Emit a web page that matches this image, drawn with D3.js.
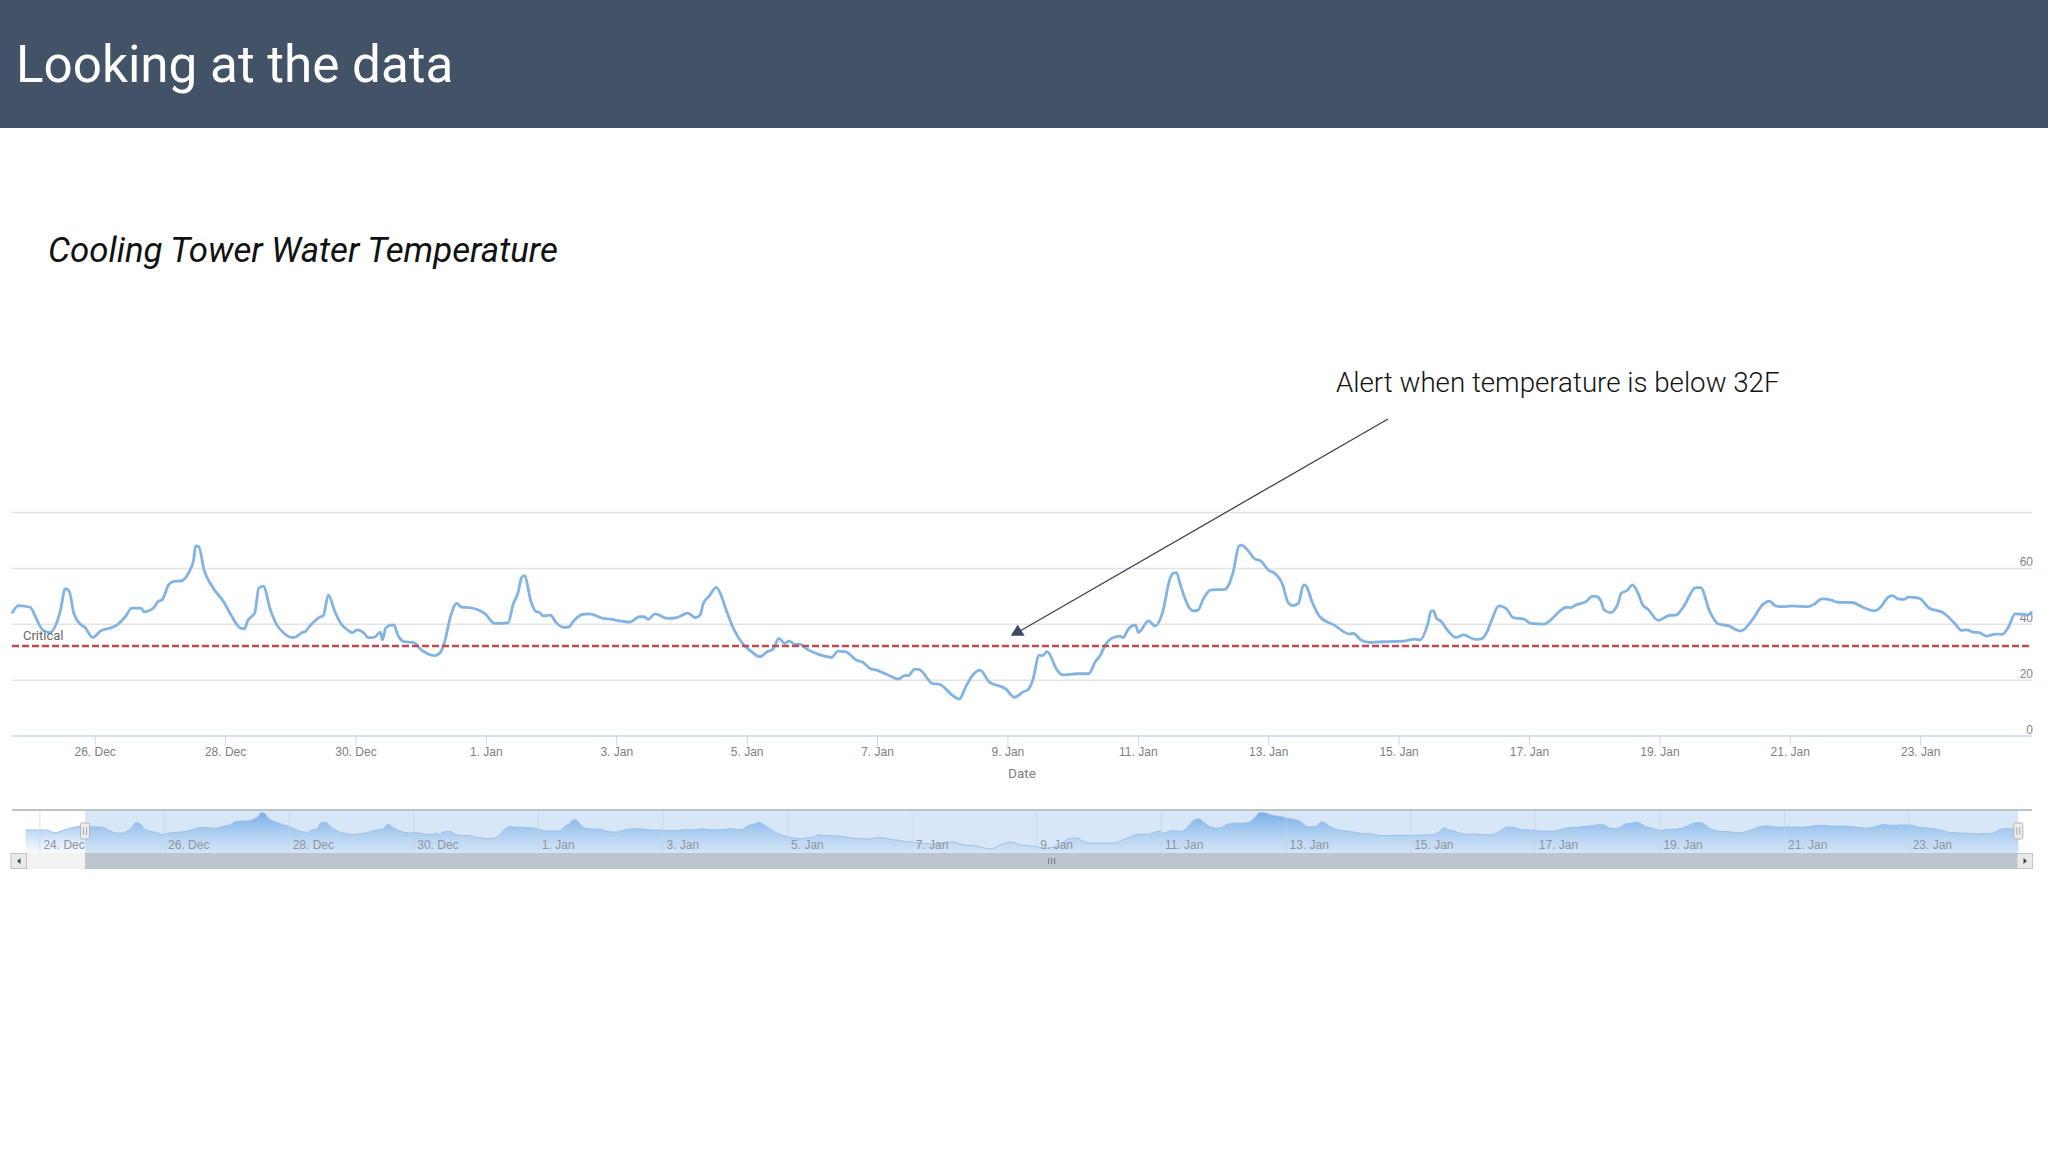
<!DOCTYPE html>
<html>
<head>
<meta charset="utf-8">
<title>Looking at the data</title>
<script src="https://cdn.jsdelivr.net/npm/d3@7"></script>
<style>
  html, body { margin: 0; padding: 0; background: #fff; }
  svg { display: block; font-family: Roboto, sans-serif; }
  .domain { display: none; }
</style>
</head>
<body>
<script>
// days counted from 26 Dec, temperature in F
const tempDays = [
  -1.27,-1.17,-0.99,-0.91,-0.80,-0.69,-0.53,-0.45,-0.39,-0.32,
  -0.22,-0.15,-0.03,0.09,0.19,0.26,0.36,0.47,0.57,0.71,
  0.76,0.91,0.97,1.04,1.14,1.22,1.32,1.46,1.52,1.55,
  1.60,1.68,1.80,1.98,2.11,2.23,2.30,2.35,2.46,2.52,
  2.59,2.70,2.80,2.90,3.00,3.07,3.18,3.24,3.31,3.47,
  3.51,3.59,3.69,3.79,3.90,3.96,4.03,4.14,4.20,4.29,
  4.39,4.42,4.47,4.55,4.60,4.65,4.75,4.91,4.99,5.23,
  5.30,5.37,5.47,5.56,5.64,5.75,5.99,6.15,6.35,6.43,
  6.50,6.56,6.60,6.71,6.78,6.83,6.89,7.00,7.09,7.20,
  7.27,7.36,7.50,7.60,7.81,7.94,8.08,8.22,8.37,8.44,
  8.50,8.61,8.80,8.94,9.11,9.23,9.30,9.35,9.44,9.55,
  9.62,9.71,9.81,9.95,10.09,10.22,10.33,10.42,10.51,10.60,
  10.67,10.76,10.84,10.94,11.08,11.32,11.42,11.53,11.70,11.80,
  11.91,12.01,12.21,12.35,12.44,12.50,12.59,12.66,12.87,12.98,
  13.17,13.28,13.38,13.50,13.60,13.74,14.00,14.13,14.27,14.34,
  14.41,14.51,14.56,14.63,14.79,14.87,15.09,15.27,15.37,15.44,
  15.54,15.64,15.75,15.80,15.87,15.95,15.99,16.03,16.19,16.29,
  16.40,16.52,16.57,16.62,16.67,16.82,16.88,16.95,17.03,17.15,
  17.36,17.41,17.49,17.58,17.62,17.71,17.82,17.91,18.04,18.11,
  18.25,18.33,18.40,18.49,18.57,18.61,18.70,18.82,19.04,19.28,
  19.33,19.45,19.59,19.74,19.87,20.14,20.28,20.36,20.48,20.53,
  20.57,20.61,20.67,20.79,20.91,21.03,21.20,21.29,21.39,21.46,
  21.57,21.68,21.79,21.96,22.06,22.27,22.41,22.49,22.61,22.68,
  22.75,22.92,23.00,23.06,23.13,23.19,23.28,23.39,23.45,23.54,
  23.62,23.71,23.78,23.86,24.02,24.19,24.29,24.39,24.60,24.67,
  24.81,24.94,25.11,25.22,25.29,25.46,25.63,25.73,25.82,25.94,
  26.07,26.31,26.42,26.53,26.69,26.77,27.00,27.17,27.34,27.45,
  27.55,27.62,27.69,27.79,27.86,28.03,28.17,28.41,28.48,28.58,
  28.68,28.76,28.85,28.95,29.06,29.20,29.30,29.40,29.50,29.61,
  29.69,29.76
];
const tempValues = [
  43.7,46.5,45.9,42.5,37.8,36.8,44.3,52.6,51.5,43.7,
  39.8,38.7,35.1,37.4,38.2,38.6,39.9,42.5,45.6,45.6,
  44.3,45.8,47.9,48.7,54.1,55.2,55.3,59,62.8,67.9,
  67.6,59.3,53.5,47.9,42.5,38.6,38.2,41.1,44,52.7,
  53.5,44.9,39.5,36.8,35.2,35.1,36.8,37.3,39.3,42.5,
  42.8,50.3,44.3,39.8,37.5,36.8,37.8,36.6,35,35.1,
  37,34.2,38.4,39.5,39.5,36.3,33.6,33.2,31.2,28.6,
  29.4,33,42.9,47.3,45.9,45.8,43.7,40.1,40.3,47.1,
  50.9,56.6,57.2,47.3,44.3,44.1,42.8,43.1,40.4,38.7,
  38.7,41.1,43.4,43.5,41.9,41.6,40.9,40.6,42.5,42.5,
  41.6,43.5,41.9,42.2,43.8,42.2,43.1,47.3,49.9,53,
  50.3,44.3,38.4,33,30,28.2,30,30.9,34.8,33,
  33.8,32.6,32.6,30.9,29.4,28,30.2,30,27,26.2,
  24,23.4,21.4,20.2,21.4,21.4,23.7,23.7,18.6,18.3,
  14.5,13,17.4,21.9,23.4,19.2,16.6,13.7,15.7,16.5,
  19.8,28.8,28.6,30,23.2,21.7,22.1,22.1,26.4,28.4,
  33,35,35.6,35,37.8,39.4,39.5,36.9,41,39.2,
  43.7,56.3,58.1,58.3,54.5,45.5,44.6,44.9,48.9,52.1,
  52.3,53.5,58.7,67.9,68.1,66.4,63.2,62.5,59,58.3,
  53.9,47.7,46.5,47.3,53.9,53.5,47.9,42.5,39.5,36.3,
  36.6,34.2,33.3,33.5,33.6,33.9,34.5,34.2,40.1,44.6,
  44.6,41.9,41.1,37.4,35.1,36,34.4,34.5,37.2,41.3,
  46.4,45.5,42.2,41.6,40.1,39.9,42.3,44.2,45.9,45.8,
  46.7,48.1,49.8,49.8,48.5,44.9,44,46.7,50.9,51.9,
  53.9,50.9,46.7,45.2,41.2,43,43.1,45.5,52.9,52.9,
  44.3,39.9,39.2,37.8,37.4,41.3,47,48.1,46.4,46.1,
  46.4,46.1,47.1,48.9,48.4,47.7,47.6,45.8,44.6,46.4,
  49.5,50.1,49,48.7,49.5,49.1,45.8,43.7,42.3,39.9,
  37.6,37.8,37,36.8,35.6,36.3,36.2,38.9,43.5,43.4,
  43.1,44.3
];
// the navigator starts a bit earlier than the main view
const preDays = [-2.22,-1.90,-1.75,-1.57,-1.36];
const preValues = [41.8,41.8,37.7,42.9,46.8];

const yTicks = [0,20,40,60,80];
const criticalValue = 32;
const mainTickDays = d3.range(0,29,2);
const navTickDays = d3.range(-2,29,2);

const dayMs = 86400000;
const toDate = d => new Date(2016,11,26).getTime() + d*dayMs;
const fmtTick = d3.timeFormat("%-d. %b");
// my readings ran a hair long against the date ticks
const readFix = 0.9985;
const trueDays = tempDays.map(d => d*readFix);

const svg = d3.select("body").append("svg").attr("width",2048).attr("height",1152);
svg.append("rect").attr("width",2048).attr("height",1152).attr("fill","#fff");

// header
svg.append("rect").attr("width",2048).attr("height",128).attr("fill","#435367");
svg.append("text").attr("x",16).attr("y",82).attr("fill","#fff")
  .style("font-size","51.2px").text("Looking at the data");
svg.append("text").attr("x",48).attr("y",262).attr("fill","#111")
  .style("font-size","34.8px").style("font-style","italic").text("Cooling Tower Water Temperature");

// main chart
const left = 12, right = 2032;
const x = d3.scaleTime().domain([toDate(-1.268),toDate(29.715)]).range([left,right]);
const y = d3.scaleLinear().domain([0,80]).range([735.5,512]);

const yAxis = d3.axisRight(y).tickValues(yTicks).tickSize(left-right).tickPadding(0);
const yG = svg.append("g").attr("transform",`translate(${right},0)`).call(yAxis);
yG.selectAll(".tick line").attr("stroke","#e4e4e4").attr("stroke-width",1.5);
yG.selectAll(".tick").filter(d => d==0).select("line").attr("stroke","#ccd6eb");
yG.selectAll(".tick text").attr("x",1).attr("dy",-2).attr("text-anchor","end")
  .attr("fill","#858585").style("font-size","12px").text(d => d==80 ? "" : d);

const xAxis = d3.axisBottom(x).tickValues(mainTickDays.map(d => new Date(toDate(d))))
  .tickFormat(fmtTick).tickSize(10).tickPadding(2);
const xG = svg.append("g").attr("transform","translate(0,735.5)").call(xAxis);
xG.selectAll(".tick line").attr("stroke","#ccd6eb");
xG.selectAll(".tick text").attr("fill","#808080").style("font-size","12px").attr("dx",0);

svg.append("text").attr("x",1022).attr("y",778).attr("text-anchor","middle").attr("fill","#808080")
  .style("font-size","13.5px").text("Date");

const series = d3.zip(trueDays,tempValues);
const line = d3.line().x(d => x(toDate(d[0]))).y(d => y(d[1])).curve(d3.curveMonotoneX);
svg.append("path").attr("d",line(series)).attr("fill","none")
  .attr("stroke","#82b3e3").attr("stroke-width",2.8).attr("stroke-linejoin","round");

svg.append("line").attr("x1",left).attr("x2",right).attr("y1",y(criticalValue)).attr("y2",y(criticalValue))
  .attr("stroke","#c04850").attr("stroke-width",2.5).attr("stroke-dasharray","7,3");
svg.append("text").attr("x",23).attr("y",y(criticalValue)-6).attr("fill","#666")
  .style("font-size","13px").text("Critical");

// annotation
svg.append("text").attr("x",1336).attr("y",392).attr("fill","#111")
  .style("font-size","27.7px").style("font-weight",300).text("Alert when temperature is below 32F");
svg.append("line").attr("x1",1388).attr("y1",419).attr("x2",1020).attr("y2",631)
  .attr("stroke","#3a4252").attr("stroke-width",1.3);
svg.append("path").attr("d",d3.line()([[1017.7,624.7],[1024.7,635.7],[1010.7,635.7]])+"Z").attr("fill","#3f4860");

// navigator
const navTop = 810, navBottom = 853, barBottom = 869;
const xNav = d3.scaleTime().domain([toDate(-2.44),toDate(29.98)]).range([left,right]);
const yNav = d3.scaleLinear().domain([7,72]).range([navBottom,navTop]);
const selA = xNav(x.domain()[0]), selB = xNav(toDate(29.76));

const grad = svg.append("defs").append("linearGradient").attr("id","navFill")
  .attr("x1",0).attr("x2",0).attr("y1",0).attr("y2",1);
grad.append("stop").attr("offset","0%").attr("stop-color","#5b9be4").attr("stop-opacity",0.75);
grad.append("stop").attr("offset","100%").attr("stop-color","#7cb5ec").attr("stop-opacity",0.05);

svg.append("rect").attr("x",selA).attr("y",navTop).attr("width",selB-selA).attr("height",navBottom-navTop)
  .attr("fill","#d7e7f7");

const navSeries = d3.zip(preDays.concat(tempDays),preValues.concat(tempValues));
const navArea = d3.area().x(d => xNav(toDate(d[0]))).y0(navBottom).y1(d => yNav(d[1])).curve(d3.curveMonotoneX);
const navLine = navArea.lineY1();
svg.append("path").attr("d",navArea(navSeries)).attr("fill","url(#navFill)");
svg.append("path").attr("d",navLine(navSeries)).attr("fill","none").attr("stroke","#9cc0e8").attr("stroke-width",1);

const navAxis = d3.axisBottom(xNav).tickValues(navTickDays.map(d => new Date(toDate(d))))
  .tickFormat(fmtTick).tickSize(navBottom-navTop).tickPadding(0);
const navG = svg.append("g").attr("transform",`translate(0,${navTop})`).call(navAxis);
navG.selectAll(".tick line").attr("stroke","#c8d4e0").attr("stroke-opacity",0.7);
navG.selectAll(".tick text").attr("fill","#8f949b").style("font-size","12px")
  .attr("text-anchor","start").attr("x",3.5).attr("y",0).attr("dy",0)
  .attr("transform","translate(0,39)");

svg.append("line").attr("x1",left).attr("x2",right).attr("y1",navTop).attr("y2",navTop)
  .attr("stroke","#bcc4c8").attr("stroke-width",2);

// scrollbar
svg.append("rect").attr("x",left).attr("y",navBottom).attr("width",right-left).attr("height",barBottom-navBottom).attr("fill","#f2f2f2");
svg.append("rect").attr("x",selA).attr("y",navBottom).attr("width",selB-selA).attr("height",barBottom-navBottom)
  .attr("fill","#bcc5cd");
[[left-1,-1],[right-15,1]].forEach(([bx,dir]) => {
  svg.append("rect").attr("x",bx).attr("y",navBottom+0.5).attr("width",15.5).attr("height",barBottom-navBottom-1)
    .attr("fill","#e9e9e9").attr("stroke","#c4c4c4");
  const cx = bx+8;
  svg.append("path").attr("d",d3.line()([[cx+dir*2,861],[cx-dir*1.5,858],[cx-dir*1.5,864]])+"Z").attr("fill","#444");
});
// rifles in the middle of the thumb
[-3,0,3].forEach(o => svg.append("line").attr("x1",(selA+selB)/2+o).attr("x2",(selA+selB)/2+o)
  .attr("y1",858).attr("y2",864).attr("stroke","#777"));
// handles
[selA,selB].forEach(hx => {
  svg.append("rect").attr("x",hx-4.5).attr("y",823).attr("width",9).attr("height",16).attr("rx",1.5)
    .attr("fill","#ededed").attr("stroke","#b5b5b5");
  [-1.5,1.5].forEach(o => svg.append("line").attr("x1",hx+o).attr("x2",hx+o).attr("y1",827).attr("y2",835).attr("stroke","#aaa"));
});
</script>
</body>
</html>
